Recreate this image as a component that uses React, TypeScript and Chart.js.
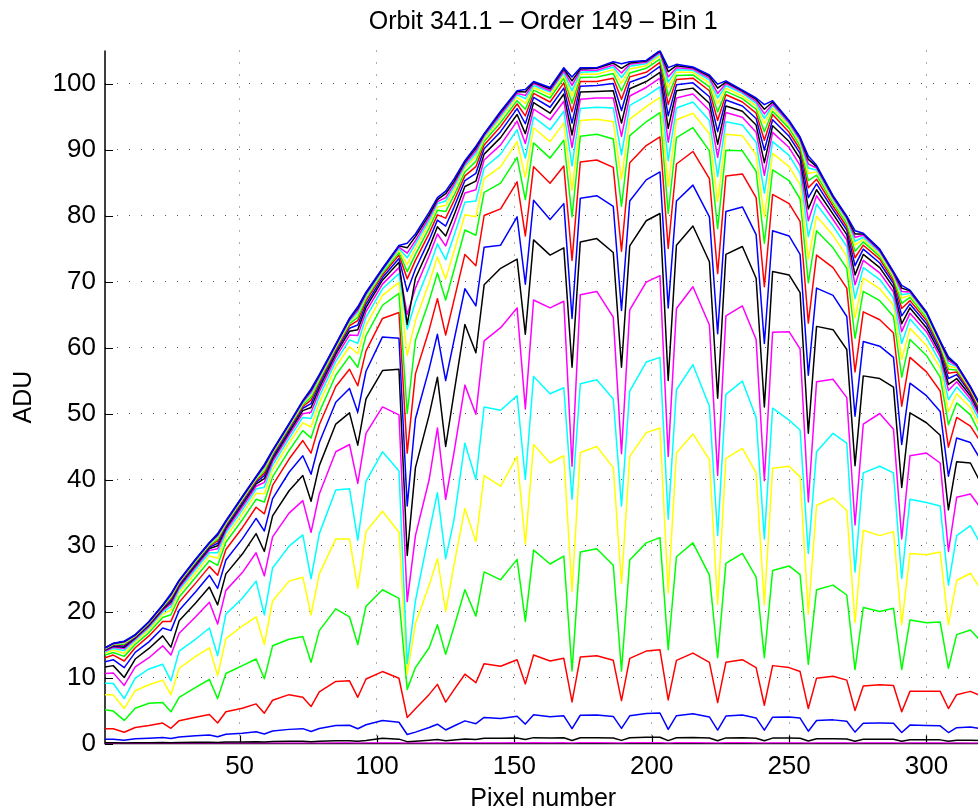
import React, { useEffect, useRef } from "react";
import { Chart, registerables } from "chart.js";

Chart.register(...registerables);

const TITLE = "Orbit 341.1 – Order 149 – Bin 1";
const X_LABEL = "Pixel number";
const Y_LABEL = "ADU";

const X_TICK_STEP = 50;
const Y_TICK_STEP = 10;
const X_MIN = 1;
const X_MAX = 320;
const Y_MIN = 0;
const Y_MAX = 105;

// pixel numbers at which the curves were read
const PIXELS = [1,4,8,12,17,22,25,28,34,39,42,45,51,56,59,62,68,73,76,79,85,90,93,96,102,108,111,114,119,122,125,128,132,136,139,145,151,154,157,163,168,171,174,180,186,189,192,198,203,206,209,215,221,224,227,233,238,241,244,250,254,257,260,266,271,274,277,283,288,291,294,300,305,308,311,316,320];

// series, from the lowest curve to the highest
const S01 = [0.01,0.02,0.01,0.02,0.02,0.02,0.02,0.03,0.03,0.03, 0.02,0.03,0.04,0.04,0.03,0.04,0.05,0.05,0.04,0.05, 0.06,0.06,0.05,0.07,0.07,0.08,0.03,0.04,0.05,0.07, 0.05,0.06,0.08,0.07,0.09,0.09,0.1,0.07,0.1,0.09, 0.1,0.05,0.1,0.1,0.09,0.05,0.1,0.1,0.11,0.05, 0.1,0.1,0.09,0.05,0.1,0.1,0.09,0.05,0.09,0.09, 0.09,0.04,0.08,0.08,0.08,0.04,0.07,0.07,0.07,0.04, 0.06,0.06,0.06,0.04,0.06,0.05,0.05];
const S02 = [0.10,0.10,0.08,0.11,0.12,0.14,0.12,0.16,0.18,0.20, 0.16,0.22,0.24,0.28,0.23,0.30,0.33,0.35,0.28,0.35, 0.42,0.43,0.35,0.44,0.80,0.66,0.28,0.35,0.50,0.60, 0.42,0.54,0.70,0.61,0.81,0.78,0.85,0.60,0.89,0.83, 0.86,0.46,0.88,0.89,0.84,0.47,0.86,0.93,0.95,0.44, 0.86,0.92,0.82,0.42,0.85,0.88,0.79,0.41,0.82,0.82, 0.79,0.38,0.71,0.73,0.69,0.35,0.63,0.63,0.63,0.34, 0.57,0.56,0.55,0.34,0.49,0.51,0.46];
const S03 = [0.65,0.65,0.49,0.71,0.79,0.90,0.76,1.00,1.16,1.30, 1.01,1.40,1.57,1.77,1.45,1.90,2.14,2.25,1.82,2.27, 2.72,2.76,2.24,2.84,3.5,3.22,1.36,1.72,2.42,2.92, 2.05,2.65,3.43,3.0,3.95,3.80,4.14,2.94,4.37,4.07, 4.19,2.24,4.28,4.33,4.10,2.29,4.19,4.55,4.62,2.14, 4.21,4.51,4.02,2.04,4.16,4.31,3.88,2.02,3.99,4.03, 3.85,1.86,3.48,3.58,3.38,1.73,3.07,3.10,3.08,1.66, 2.79,2.74,2.68,1.66,2.40,2.49,2.24];
const S04 = [2.25,2.24,1.7,2.43,2.72,3.09,2.3,3.46,3.99,4.4, 3.1,4.82,5.35,6.0,4.6,6.55,7.4,7.0,5.6,7.81, 9.4,9.5,7.0,9.77,10.9,9.89,3.95,5.27,7.44,8.96, 6.27,8.13,10.5,9.21,12.1,11.7,12.7,9.03,13.4,12.5, 12.9,6.3,13.1,13.3,12.6,6.5,12.9,14.0,14.2,6.6, 12.6,13.7,12.3,6.2,12.3,12.7,11.5,5.8,11.8,11.5, 10.9,5.3,9.9,10.2,9.6,5.0,8.7,8.9,8.8,4.8, 7.9,7.9,7.9,5.3,7.4,7.9,7.2];
const S05 = [5.1,4.91,3.5,5.33,6.1,6.2,4.8,7.0,8.5,9.7, 6.8,10.6,11.8,12.8,9.8,14.8,15.8,16.2,12.3,17.1, 20.4,19.2,15.0,20.8,23.3,22.0,8.2,11.5,14.5,18.0, 13.5,17.6,23.3,19.3,26.0,24.8,27.9,18.5,29.3,27.2, 28.4,11.0,29.0,29.5,27.0,11.0,27.8,30.4,31.2,14.2, 28.3,30.4,25.5,13.0,27.3,28.8,25.2,13.0,26.2,26.9, 25.6,12.0,23.3,24.0,22.5,11.2,20.6,20.0,20.5,11.2, 18.7,18.3,18.4,11.4,16.5,17.2,15.4];
const S06 = [7.4,7.37,5.3,8.0,8.9,9.6,7.4,11.4,13.2,14.5, 10.3,15.9,17.8,19.2,15.0,21.6,24.6,25.2,19.5,25.7, 31.0,31.0,23.5,32.1,35.2,32.0,10.5,18.2,24.0,28.0, 20.0,27.0,35.6,30.6,40.6,39.0,43.5,30.2,45.3,42.5, 43.6,23.0,44.1,45.0,41.8,24.2,43.5,47.1,47.8,22.8, 44.0,46.9,43.0,21.1,43.2,44.7,41.0,21.0,41.7,42.0, 40.4,19.6,36.1,37.2,35.3,18.3,32.3,31.5,32.1,18.0, 28.8,28.6,29.0,18.0,24.7,25.8,23.2];
const S07 = [9.14,9.1,6.8,9.9,11.3,12.0,9.5,14.0,15.8,17.5, 13.3,19.6,22.0,24.6,19.5,26.6,29.9,31.6,25.0,31.8, 38.4,38.6,30.8,39.7,44.2,41.3,12.1,21.6,32.0,38.0, 28.0,33.8,45.5,40.0,51.0,50.5,52.7,40.0,55.6,53.0, 53.9,37.0,54.5,55.1,52.2,36.0,53.4,57.8,58.5,34.0, 53.6,57.4,51.1,31.5,52.9,54.9,49.4,31.0,50.8,49.0, 47.5,28.8,44.2,47.0,45.5,26.0,41.0,42.0,41.0,25.0, 37.0,36.5,36.0,24.0,31.5,33.0,30.0];
const S08 = [10.6,10.7,8.8,11.6,13.0,14.8,13.4,16.7,19.2,21.4, 18.1,23.2,25.9,28.9,25.4,31.3,34.9,36.8,32.0,37.8, 44.2,45.3,39.4,47.0,51.0,49.8,21.5,31.5,40.0,47.8, 37.0,44.0,54.3,49.9,61.0,63.0,66.0,50.7,67.2,66.0, 67.0,42.0,68.0,68.5,64.6,43.9,65.7,69.9,70.9,43.5, 65.9,69.2,63.4,40.6,64.8,66.3,61.2,39.8,62.3,62.4, 59.8,36.6,54.8,55.2,52.4,33.1,48.4,50.0,47.6,31.0, 43.6,44.0,42.5,29.1,37.3,37.8,35.5];
const S09 = [11.6,11.8,10.0,12.8,14.4,16.3,14.6,18.6,21.3,23.7, 21.0,25.7,28.7,31.8,29.1,34.5,38.3,40.6,36.7,42.1, 48.4,50.1,45.2,52.2,56.5,56.7,28.5,41.8,49.8,55.5, 45.0,53.0,63.5,59.2,69.5,72.0,73.4,62.0,76.3,74.0, 75.1,57.0,76.0,76.5,74.4,57.0,75.4,79.2,80.3,55.0, 75.5,78.4,73.0,52.3,74.1,75.3,70.5,51.0,71.5,71.0, 68.3,47.0,63.2,62.7,59.7,42.1,55.7,55.3,54.0,38.8, 50.1,48.6,46.7,35.4,42.7,42.5,39.3];
const S10 = [12.4,12.7,11.5,13.8,15.4,17.5,17.1,20.2,23.0,25.5, 23.5,27.8,31.0,34.1,32.2,37.1,41.1,43.6,40.8,45.6, 51.7,53.8,50.2,56.4,61.6,61.4,36.0,49.2,56.8,62.0, 55.0,61.0,68.9,66.3,75.2,75.5,79.8,69.6,82.3,79.4, 81.8,64.4,82.6,83.0,81.4,65.6,82.2,85.4,86.6,66.0, 82.2,84.6,79.8,62.1,80.6,81.3,77.1,60.6,77.7,76.9, 74.1,55.8,69.0,67.9,64.7,49.6,60.9,60.2,58.5,45.3, 54.6,52.7,50.3,40.5,46.3,45.6,42.8];
const S11 = [13.0,13.4,12.5,14.5,16.3,18.5,18.5,21.4,24.3,26.8, 25.5,29.4,32.7,35.8,34.8,39.1,43.1,45.9,44.0,48.3, 54.1,56.7,54.2,59.5,64.4,65.3,44.0,56.0,62.7,67.4, 61.9,67.1,74.1,72.4,80.0,81.0,85.1,76.9,87.4,84.9, 87.5,73.2,88.1,88.4,87.3,74.6,88.0,90.6,91.9,75.0, 87.8,89.7,85.6,71.2,86.0,86.3,82.7,69.2,83.2,81.8, 79.1,63.7,74.0,72.1,69.0,56.3,65.4,64.2,62.2,51.1, 58.5,56.3,53.4,44.9,49.4,48.1,45.5];
const S12 = [13.4,13.8,13.2,15.0,16.8,19.1,19.5,22.2,25.2,27.7, 27.0,30.5,33.9,37.0,36.6,40.4,44.4,47.4,46.3,50.2, 55.8,58.7,57.0,61.8,66.4,68.2,50.0,61.1,67.1,71.3, 67.2,71.7,77.8,77.0,83.5,84.9,88.8,82.4,91.0,88.7, 91.4,79.8,92.0,92.3,91.6,81.4,92.1,94.2,95.6,80.3, 91.8,93.3,89.8,78.0,89.9,89.8,86.7,75.8,86.9,85.3, 82.5,69.8,77.7,75.1,72.0,61.4,68.5,67.1,64.7,55.5, 61.2,58.8,55.5,48.3,51.6,49.8,46.4];
const S13 = [13.67,14.17,13.68,15.38,17.24,19.57,20.2,22.84,25.9,28.43, 28.06,31.27,34.79,37.92,37.83,41.47,45.53,48.58,47.95,51.58, 57.05,60.11,59.05,63.36,67.9,69.86,58.8,64.1,69.8,73.7, 70.4,74.5,80.1,79.8,85.6,87.4,91.2,85.8,93.3,91.2, 94.0,83.8,94.4,94.6,94.2,85.5,94.6,96.5,97.9,84.4, 94.5,95.5,92.4,82.1,92.3,92.1,89.2,79.7,89.4,87.4, 84.7,73.4,79.9,77.0,73.8,64.5,70.5,68.9,66.4,58.2, 62.9,60.3,56.9,50.3,53.0,50.9,47.5];
const S14 = [13.88,14.41,14.09,15.64,17.54,19.91,20.75,23.29,26.4,28.91, 28.9,31.87,35.4,38.55,38.84,42.19,46.22,49.4,49.25,52.58, 57.9,61.15,60.65,64.6,68.9,71.2,62.8,66.9,72.1,75.7, 73.3,76.9,82.0,82.2,87.2,89.3,93.0,88.7,94.9,93.0, 95.8,87.5,96.2,96.4,96.3,89.2,96.7,98.1,99.5,88.3, 96.3,97.2,94.4,85.9,94.2,93.7,91.1,83.4,91.2,89.1, 86.4,76.8,81.7,78.4,75.3,67.4,72.1,70.3,67.5,60.6, 64.3,61.5,57.8,52.1,54.0,51.7,48.3];
const S15 = [14.02,14.58,14.38,15.83,17.75,20.15,21.16,23.61,26.74,29.26, 29.5,32.28,35.87,38.98,39.57,42.7,46.75,49.97,50.19,53.31, 58.5,61.89,61.81,65.42,69.6,72.1,65.0,69.0,73.9,77.2, 75.4,78.7,83.4,83.9,88.4,90.7,94.3,90.9,96.1,94.5, 97.3,90.3,97.6,97.8,97.8,92.0,98.1,99.4,100.8,91.1, 97.8,98.4,95.9,88.8,95.6,94.9,92.6,86.1,92.6,90.3, 87.6,79.2,83.0,79.4,76.3,69.5,73.2,71.3,68.4,62.4, 65.2,62.4,58.6,53.5,54.8,52.2,49.0];
const S16 = [14.14,14.72,14.6,15.98,17.92,20.34,21.46,23.86,27.01,29.54, 29.95,32.6,36.22,39.33,40.12,43.1,47.16,50.44,50.9,53.87, 58.99,62.47,62.68,66.08,70.2,72.9,63.5,70.5,75.1,78.3, 76.9,80.0,84.4,85.2,89.3,91.8,95.3,92.4,97.1,95.5, 98.4,92.2,98.7,98.8,98.9,94.0,99.2,100.3,101.7,93.2, 98.9,99.3,97.0,90.8,96.6,95.8,93.7,88.0,93.6,91.2, 88.6,81.0,83.9,80.2,77.1,71.0,74.1,72.1,69.1,63.6, 66.0,63.0,59.1,54.4,55.3,52.7,49.4];
const S17 = [14.22,14.83,14.79,16.1,18.05,20.49,21.71,24.06,27.22,29.75, 30.34,32.85,36.5,39.6,40.6,43.41,47.48,50.8,51.49,54.32, 59.35,62.92,63.41,66.58,70.6,73.5,68.5,71.9,76.3,79.3, 78.4,81.2,85.3,86.4,90.1,92.7,96.2,93.9,97.9,96.4, 99.3,94.0,99.6,99.7,100.0,95.9,100.2,101.1,102.6,95.1, 99.8,100.1,98.0,92.7,97.5,96.6,94.7,89.9,94.5,92.0, 89.4,82.7,84.8,80.9,77.8,72.4,74.9,72.8,69.7,64.8, 66.6,63.6,59.6,55.3,55.9,53.1,49.8];
const S18 = [14.3,14.92,14.96,16.19,18.16,20.61,21.95,24.23,27.41,29.94, 30.69,33.09,36.75,39.81,40.97,43.68,47.72,51.06,52.03,54.71, 59.65,63.31,64.07,67.06,71.0,74.0,70.4,73.2,77.3,80.1, 79.6,82.2,86.0,87.4,90.7,93.5,96.9,95.1,98.5,97.2, 100.1,95.7,100.3,100.3,100.8,97.6,101.0,101.7,103.2,96.8, 100.6,100.8,98.9,94.4,98.3,97.2,95.5,91.4,95.3,92.6, 90.0,84.2,85.5,81.4,78.3,73.6,75.5,73.4,70.1,65.9, 67.1,64.1,60.0,56.1,56.3,53.3,50.1];
const S19 = [14.36,14.99,15.09,16.27,18.24,20.71,22.13,24.37,27.55,30.07, 30.96,33.26,36.94,40.01,41.31,43.88,47.94,51.32,52.45,55.02, 59.9,63.6,64.57,67.4,71.3,74.4,71.5,74.1,78.1,80.8, 80.6,83.0,86.6,88.2,91.2,94.1,97.4,96.1,99.0,97.8, 100.8,97.0,100.9,101.0,101.5,98.9,101.6,102.3,103.7,98.1, 101.2,101.3,99.5,95.7,98.8,97.7,96.1,92.7,95.8,93.2, 90.5,85.3,86.1,81.9,78.8,74.6,76.0,73.8,70.5,66.7, 67.6,64.5,60.3,56.7,56.6,53.6,50.4];
const S20 = [14.4,15.05,15.21,16.34,18.32,20.79,22.28,24.48,27.67,30.2, 31.2,33.39,37.09,40.14,41.59,44.06,48.11,51.51,52.81,55.27, 60.08,63.86,65.04,67.68,71.5,74.7,72.6,75.0,78.8,81.3, 81.5,83.8,87.2,88.9,91.6,94.7,97.9,97.0,99.4,98.3, 101.2,98.1,101.4,101.4,102.1,100.0,102.2,102.7,104.2,99.4, 101.7,101.7,100.1,96.9,99.3,98.1,96.6,93.9,96.3,93.6, 91.0,86.4,86.6,82.2,79.2,75.5,76.4,74.1,70.8,67.5, 67.9,64.8,60.5,57.2,56.9,53.7,50.6];
const S21 = [14.43,15.09,15.29,16.38,18.36,20.84,22.39,24.55,27.75,30.27, 31.36,33.5,37.18,40.24,41.78,44.17,48.21,51.64,53.06,55.44, 60.2,64.02,65.34,67.88,71.6,75.0,73.6,75.7,79.3,81.8, 82.2,84.3,87.5,89.4,91.9,95.0,98.3,97.7,99.7,98.7, 101.6,98.9,101.7,101.8,102.5,100.9,102.6,103.0,104.5,100.2, 102.1,102.0,100.5,97.8,99.7,98.5,97.0,94.7,96.7,93.9, 91.3,87.2,86.9,82.5,79.4,76.1,76.7,74.4,71.1,68.0, 68.2,65.0,60.7,57.6,57.1,53.9,50.7];
const S22 = [14.46,15.12,15.37,16.42,18.41,20.9,22.49,24.63,27.83,30.35, 31.52,33.59,37.28,40.33,41.96,44.28,48.32,51.76,53.3,55.61, 60.32,64.18,65.64,68.08,71.8,75.2,74.3,76.2,79.7,82.1, 82.7,84.7,87.8,89.8,92.1,95.3,98.5,98.2,100.0,98.9, 101.9,99.7,102.0,102.0,102.8,101.6,102.9,103.2,104.7,101.0, 102.4,102.2,100.8,98.5,100.0,98.7,97.3,95.4,96.9,94.1, 91.5,87.8,87.2,82.7,79.6,76.7,77.0,74.6,71.2,68.5, 68.4,65.2,60.8,58.0,57.2,53.9,50.8];
const S23 = [14.49,15.16,15.44,16.46,18.45,20.95,22.6,24.7,27.9,30.42, 31.68,33.69,37.38,40.42,42.15,44.39,48.42,51.89,53.54,55.78, 60.44,64.34,65.93,68.27,71.9,75.4,75.1,76.8,80.1,82.4, 83.3,85.1,88.1,90.2,92.3,95.6,98.8,98.7,100.2,99.2, 102.2,100.4,102.2,102.3,103.1,102.3,103.1,103.4,104.9,101.8, 102.7,102.4,101.1,99.3,100.2,98.9,97.6,96.1,97.2,94.3, 91.8,88.5,87.4,82.9,79.8,77.2,77.2,74.8,71.4,69.0, 68.6,65.3,60.9,58.3,57.4,54.0,50.9];
const S24 = [14.5,15.18,15.51,16.48,18.48,20.98,22.68,24.75,27.96,30.47, 31.81,33.75,37.45,40.48,42.3,44.46,48.48,51.96,53.73,55.89, 60.5,64.44,66.17,68.39,72.0,75.45,75.8,77.2,80.5,82.7, 83.7,85.5,88.3,90.5,92.4,95.8,98.9,99.1,100.3,99.4, 102.4,101.0,102.4,102.4,103.3,103.0,103.3,103.5,105.0,102.4, 102.9,102.5,101.3,99.9,100.4,99.0,97.8,96.8,97.4,94.4, 91.9,89.0,87.6,83.0,79.9,77.7,77.3,74.9,71.5,69.4, 68.7,65.4,61.0,58.6,57.4,54.1,51.0];

const SERIES = [S01,S02,S03,S04,S05,S06,S07,S08,S09,S10,S11,S12,S13,S14,S15,S16,S17,S18,S19,S20,S21,S22,S23,S24];

const CYCLE = ["#ff00ff", "#000000", "#0000ff", "#ff0000", "#00ff00", "#ffff00", "#00ffff"];
const COLORS = SERIES.map((_, i) => CYCLE[i % CYCLE.length]);

const FONT = "'Liberation Sans', Arial, Helvetica, sans-serif";
const CANVAS_W = 990;
const CANVAS_H = 812;
const AREA_LEFT = 105;
const AREA_RIGHT = 981.4;
const AREA_TOP = 50.5;
const AREA_BOTTOM = 743.5;

const decorPlugin = {
  id: "decor",
  beforeDatasetsDraw(chart: any) {
    const { ctx, chartArea, scales } = chart;
    const xs = scales.x;
    const ys = scales.y;
    ctx.save();
    ctx.strokeStyle = "#000";
    ctx.lineWidth = 1.5;
    ctx.beginPath();
    ctx.moveTo(chartArea.left, chartArea.top);
    ctx.lineTo(chartArea.left, chartArea.bottom);
    ctx.lineTo(chartArea.right + 2, chartArea.bottom);
    ctx.stroke();
    ctx.lineWidth = 1.2;
    ctx.beginPath();
    xs.ticks.forEach((t: any) => {
      const px = Math.round(xs.getPixelForValue(t.value)) + 0.5;
      ctx.moveTo(px, chartArea.bottom);
      ctx.lineTo(px, chartArea.bottom - 8);
    });
    ys.ticks.forEach((t: any) => {
      const py = Math.round(ys.getPixelForValue(t.value)) + 0.5;
      ctx.moveTo(chartArea.left, py);
      ctx.lineTo(chartArea.left + 8, py);
    });
    ctx.stroke();
    ctx.restore();
  },
  afterDraw(chart: any) {
    const { ctx, chartArea } = chart;
    const cx = (chartArea.left + chartArea.right) / 2;
    ctx.save();
    ctx.fillStyle = "#000";
    ctx.font = `25px ${FONT}`;
    ctx.textAlign = "center";
    ctx.textBaseline = "alphabetic";
    ctx.fillText(TITLE, cx, 29);
    ctx.fillText(X_LABEL, cx, 806);
    ctx.translate(31, (chartArea.top + chartArea.bottom) / 2);
    ctx.rotate(-Math.PI / 2);
    ctx.fillText(Y_LABEL, 0, 0);
    ctx.restore();
  },
};

export default function App() {
  const ref = useRef<HTMLCanvasElement | null>(null);

  useEffect(() => {
    if (!ref.current) return;
    const datasets = SERIES.map((s, i) => ({
      label: `row ${i + 1}`,
      data: PIXELS.map((x, j) => ({ x, y: s[j] })),
      borderColor: COLORS[i],
      backgroundColor: COLORS[i],
      borderWidth: 1.5,
      pointRadius: 0,
      fill: false,
      tension: 0,
    })).reverse();

    const chart = new Chart(ref.current, {
      type: "line",
      data: { datasets },
      plugins: [decorPlugin],
      options: {
        animation: false,
        responsive: false,
        devicePixelRatio: 1,
        events: [],
        layout: {
          padding: { left: 0, top: AREA_TOP, right: CANVAS_W - AREA_RIGHT, bottom: 0 },
        },
        plugins: {
          legend: { display: false },
          tooltip: { enabled: false },
          title: { display: false },
        },
        elements: { line: { borderJoinStyle: "round" } },
        scales: {
          x: {
            type: "linear",
            min: X_MIN,
            max: X_MAX,
            afterFit: (s: any) => { s.height = CANVAS_H - AREA_BOTTOM; },
            grid: { color: "rgba(0,0,0,0.65)", lineWidth: 1, drawTicks: false },
            border: { display: false, dash: [1, 11] },
            ticks: {
              stepSize: X_TICK_STEP,
              includeBounds: false,
              padding: 8,
              color: "#000",
              maxRotation: 0,
              font: { family: FONT, size: 26 },
            },
          },
          y: {
            type: "linear",
            min: Y_MIN,
            max: Y_MAX,
            afterFit: (s: any) => { s.width = AREA_LEFT; },
            grid: { color: "rgba(0,0,0,0.65)", lineWidth: 1, drawTicks: false },
            border: { display: false, dash: [1, 11] },
            ticks: {
              stepSize: Y_TICK_STEP,
              includeBounds: false,
              padding: 9,
              color: "#000",
              font: { family: FONT, size: 26 },
            },
          },
        },
      } as any,
    });
    return () => chart.destroy();
  }, []);

  return (
    <div style={{ position: "fixed", left: 0, top: 0, width: "100vw", height: "100vh", overflow: "hidden", background: "#fff" }}>
      <canvas ref={ref} width={CANVAS_W} height={CANVAS_H} style={{ display: "block", width: CANVAS_W, height: CANVAS_H }} />
    </div>
  );
}
